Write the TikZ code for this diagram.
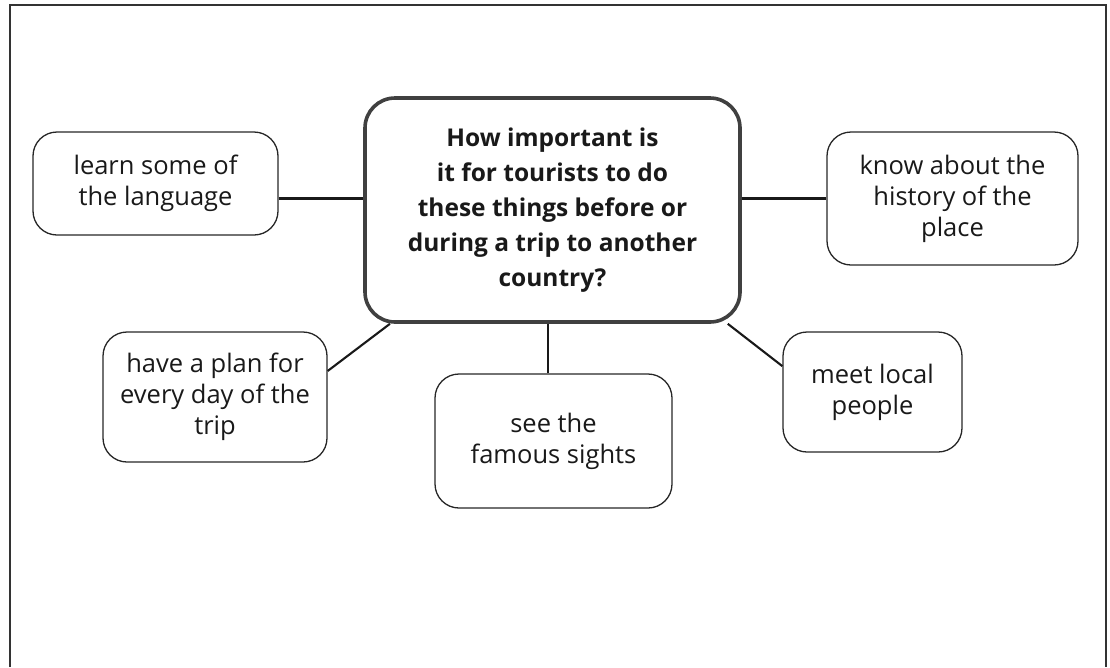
\documentclass[tikz,border=0pt]{standalone}
\usepackage{fontspec}
\setmainfont{Open Sans}
\begin{document}
\begin{tikzpicture}[x=1pt,y=-1pt,
  idea/.style={draw=black!85, line width=1.3pt, rounded corners=24pt, align=center, inner sep=0pt,
    font=\fontsize{25.5}{31}\selectfont, text=black!90},
  central/.style={draw=black!75, line width=3.6pt, rounded corners=30pt, align=center, inner sep=0pt,
    font=\bfseries\fontsize{24.5}{35}\selectfont, text=black!90},
  link/.style={draw=black!90, line width=2.1pt}]
\useasboundingbox (0,0) rectangle (1110,667);
\draw[black!80, line width=1.6pt] (10,667) -- (10,5) -- (1106,5) -- (1106,667);
\node[central, minimum width=375pt, minimum height=224pt] (q) at (552.5,210)
  {How important is\\it for tourists to do\\these things before or\\during a trip to another\\country?};
\node[idea, minimum width=245pt, minimum height=103pt] (lang) at (155.5,183.5) {learn some of\\the language};
\node[idea, minimum width=251pt, minimum height=133pt] (know) at (952.5,198.5) {know about the\\history of the\\place};
\node[idea, minimum width=224pt, minimum height=130pt] (plan) at (215,397) {have a plan for\\every day of the\\trip};
\node[idea, minimum width=237pt, minimum height=134pt] (see) at (553.5,441) {see the\\famous sights};
\node[idea, minimum width=179pt, minimum height=120pt] (meet) at (872.5,392) {meet local\\people};
\draw[link] (lang.east |- know.west) -- (q.west |- know.west);
\draw[link] (q.east |- know.west) -- (know.west);
\draw[link] (plan.13) -- (q.215);
\draw[link] (see.north -| 548,0) -- (q.south -| 548,0);
\draw[link] (meet.164) -- (q.-33);
\end{tikzpicture}
\end{document}
